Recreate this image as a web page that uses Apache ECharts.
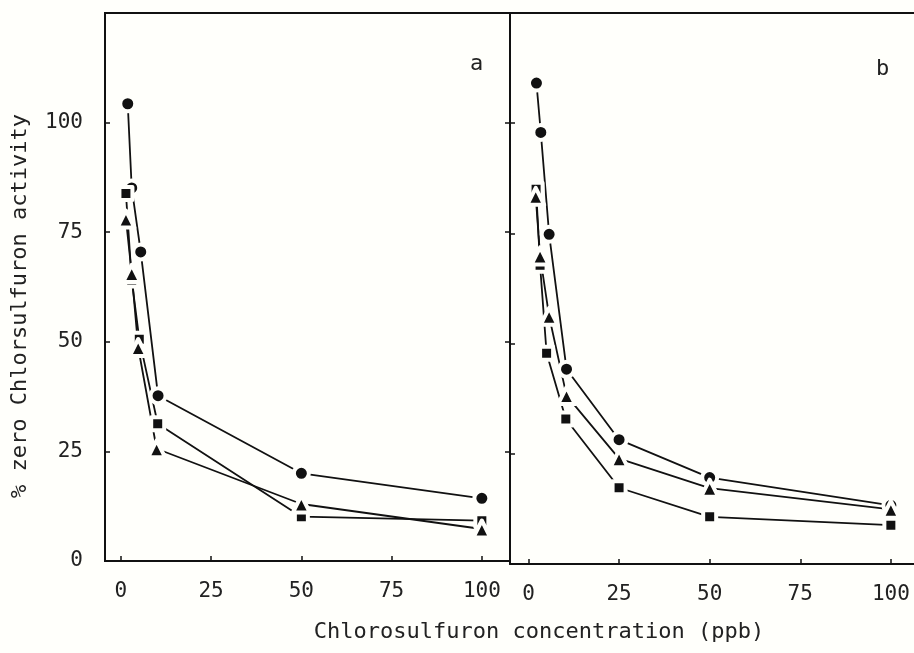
<!DOCTYPE html>
<html lang="en">
<head>
    <meta charset="UTF-8">
    <title>Chlorsulfuron activity</title>
    <script type="text/javascript" src="https://cdn.jsdelivr.net/npm/echarts@6/dist/echarts.min.js"></script>
</head>
<body style="margin:0;background:#fffffb;">
    <div id="chart" style="width:914px;height:653px;"></div>
</body>
<script type="text/javascript">
    var myChart = echarts.init(document.getElementById('chart'));

    var fontName = 'DejaVu Sans Mono';
    var tickValues = [0, 25, 50, 75, 100];

    // panel a (x = ppb, y = % zero activity)
    var aCircleX = [1.9, 3.0, 5.5, 10.3, 50, 100];
    var aCircleY = [104.3, 85.1, 70.5, 37.7, 20.0, 14.3];
    var aSquareX = [1.4, 3.0, 5.1, 10.2, 50, 100];
    var aSquareY = [83.8, 64.1, 50.6, 31.3, 10.1, 9.2];
    var aTriangleX = [1.4, 3.0, 4.8, 9.9, 50, 100];
    var aTriangleY = [78.0, 65.6, 48.7, 25.6, 13.0, 7.3];

    // panel b
    var bCircleX = [2.2, 3.4, 5.7, 10.5, 25, 50, 100];
    var bCircleY = [109.1, 97.9, 74.8, 44.2, 28.2, 19.6, 13.3];
    var bSquareX = [2.1, 3.2, 5.0, 10.3, 25, 50, 100];
    var bSquareY = [85.0, 67.8, 47.8, 32.9, 17.3, 10.7, 8.8];
    var bTriangleX = [2.0, 3.2, 5.7, 10.5, 25, 50, 100];
    var bTriangleY = [83.4, 69.9, 56.2, 38.2, 23.9, 17.2, 12.4];

    function pairs(xs, ys) {
        var out = [];
        for (var i = 0; i < xs.length; i++) out.push([xs[i], ys[i]]);
        return out;
    }

    var bg = '#fffffb';

    function makeSeries(idx, symbol, size, xs, ys) {
        return {
            type: 'line',
            xAxisIndex: idx === 0 ? 0 : 1,
            yAxisIndex: idx === 0 ? 0 : 2,
            symbol: symbol,
            symbolSize: size,
            showSymbol: true,
            lineStyle: {color: '#111', width: 1.8},
            itemStyle: {color: '#111', borderColor: bg, borderWidth: 4, borderJoin: 'round'},
            data: pairs(xs, ys)
        };
    }

    var xAxisBase = {
        type: 'value',
        axisLine: {show: true, onZero: false, lineStyle: {color: '#111', width: 2}},
        axisTick: {show: true, inside: true, length: 5, customValues: tickValues, lineStyle: {color: '#111', width: 1.5}},
        axisLabel: {customValues: tickValues, margin: 20, color: '#222', fontFamily: fontName, fontSize: 21},
        splitLine: {show: false}
    };

    var yAxisBase = {
        type: 'value',
        min: 0,
        max: 125,
        axisLine: {show: true, onZero: false, lineStyle: {color: '#111', width: 2}},
        axisTick: {show: true, inside: true, length: 5, customValues: tickValues, lineStyle: {color: '#111', width: 1.5}},
        axisLabel: {show: false},
        splitLine: {show: false}
    };

    var options = {
        backgroundColor: bg,
        animation: false,
        grid: [
            {left: 105, top: 13, width: 405, bottom: 92, outerBoundsMode: 'none', containLabel: false,
                show: true, borderColor: '#111', borderWidth: 2, backgroundColor: 'transparent'},
            {left: 510, top: 13, width: 420, bottom: 89, outerBoundsMode: 'none', containLabel: false, show: false}
        ],
        xAxis: [
            Object.assign({}, xAxisBase, {gridIndex: 0, min: -4.4, max: 107.8}),
            Object.assign({}, xAxisBase, {gridIndex: 1, min: -5.1, max: 110.8}),
            // top frame line of panel b
            {type: 'value', gridIndex: 1, position: 'top', min: -5.1, max: 110.8,
                axisLine: {show: true, onZero: false, lineStyle: {color: '#111', width: 2}},
                axisTick: {show: false}, axisLabel: {show: false}, splitLine: {show: false}}
        ],
        yAxis: [
            Object.assign({}, yAxisBase, {
                gridIndex: 0, position: 'left',
                axisLabel: {show: true, customValues: tickValues, margin: 22, color: '#222', fontFamily: fontName, fontSize: 21}
            }),
            Object.assign({}, yAxisBase, {gridIndex: 0, position: 'right'}),
            Object.assign({}, yAxisBase, {gridIndex: 1, position: 'left'})
        ],
        graphic: [
            {type: 'text', left: 470, top: 53, style: {text: 'a', fontFamily: fontName, fontSize: 22, fill: '#222'}},
            {type: 'text', left: 876, top: 58, style: {text: 'b', fontFamily: fontName, fontSize: 22, fill: '#222'}},
            {type: 'text', x: 20, y: 306, rotation: Math.PI / 2,
                style: {text: '% zero Chlorsulfuron activity', fontFamily: fontName, fontSize: 22, fill: '#222', align: 'center', verticalAlign: 'middle'}},
            {type: 'text', x: 539, y: 632,
                style: {text: 'Chlorosulfuron concentration (ppb)', fontFamily: fontName, fontSize: 22, fill: '#222', align: 'center', verticalAlign: 'middle'}}
        ],
        series: [
            makeSeries(0, 'circle', 15, aCircleX, aCircleY),
            makeSeries(0, 'rect', 13, aSquareX, aSquareY),
            makeSeries(0, 'triangle', 17, aTriangleX, aTriangleY),
            makeSeries(1, 'circle', 15, bCircleX, bCircleY),
            makeSeries(1, 'rect', 13, bSquareX, bSquareY),
            makeSeries(1, 'triangle', 17, bTriangleX, bTriangleY)
        ]
    };
    myChart.setOption(options);
</script>
</html>
